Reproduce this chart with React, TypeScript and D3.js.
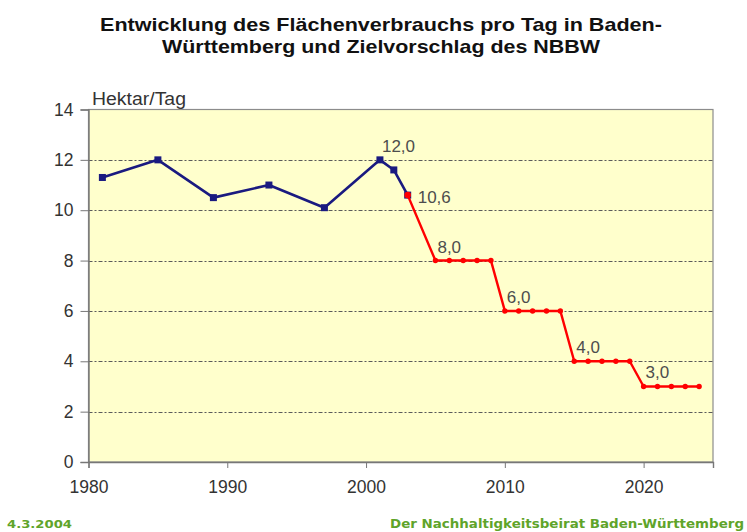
import React, { useEffect, useRef } from "react";
import * as d3 from "d3";

// measured series (Hektar pro Tag)
const measuredYears = [1981, 1985, 1989, 1993, 1997, 2001, 2002, 2003];
const measuredValues = [11.3, 12.0, 10.5, 11.0, 10.1, 12.0, 11.6, 10.6];

// target proposal of the NBBW
const targetYears = [
  2003, 2005, 2006, 2007, 2008, 2009, 2010, 2011, 2012, 2013, 2014, 2015, 2016,
  2017, 2018, 2019, 2020, 2021, 2022, 2023, 2024,
];
const targetValues = [
  10.6, 8, 8, 8, 8, 8, 6, 6, 6, 6, 6, 4, 4, 4, 4, 4, 3, 3, 3, 3, 3,
];

// value labels
const labelYears = [2001, 2003, 2005, 2010, 2015, 2020];
const labelValues = [12.0, 10.6, 8.0, 6.0, 4.0, 3.0];
const labelSide = ["above", "right", "above", "above", "above", "above"];

const xTicks = [1980, 1990, 2000, 2010, 2020];
const yTicks = [0, 2, 4, 6, 8, 10, 12, 14];

const W = 747;
const H = 532;
const FONT = "Arial, 'Liberation Sans', Helvetica, sans-serif";

const App = () => {
  const svgRef = useRef<SVGSVGElement>(null);

  useEffect(() => {
    const svg = d3.select(svgRef.current);
    svg.selectAll("*").remove();

    const left = 88.5;
    const right = 713;
    const top = 109.5;
    const bottom = 462;

    const x = d3.scaleLinear().domain([1980, 2025]).range([left, right]);
    const y = d3.scaleLinear().domain([0, 14]).range([bottom, top]);

    svg.append("rect").attr("width", W).attr("height", H).attr("fill", "#fff");

    // title
    const title = svg
      .append("text")
      .attr("text-anchor", "middle")
      .attr("font-family", FONT)
      .attr("font-weight", "bold")
      .attr("font-size", 19)
      .attr("fill", "#111");
    title
      .append("tspan")
      .attr("x", 381)
      .attr("y", 31)
      .attr("textLength", 562)
      .attr("lengthAdjust", "spacingAndGlyphs")
      .text("Entwicklung des Flächenverbrauchs pro Tag in Baden-");
    title
      .append("tspan")
      .attr("x", 381)
      .attr("y", 53)
      .attr("textLength", 438)
      .attr("lengthAdjust", "spacingAndGlyphs")
      .text("Württemberg und Zielvorschlag des NBBW");

    // plot area
    svg
      .append("rect")
      .attr("x", left)
      .attr("y", top)
      .attr("width", right - left)
      .attr("height", bottom - top)
      .attr("fill", "#ffffcc")
      .attr("stroke", "#8c8c8c")
      .attr("stroke-width", 1.2);

    // grid lines
    svg
      .append("g")
      .selectAll("line")
      .data(yTicks.filter((t) => t > 0 && t < 14))
      .enter()
      .append("line")
      .attr("x1", left)
      .attr("x2", right)
      .attr("y1", (d) => Math.round(y(d)) + 0.5)
      .attr("y2", (d) => Math.round(y(d)) + 0.5)
      .attr("stroke", "#5a5a5a")
      .attr("stroke-width", 1)
      .attr("stroke-dasharray", "4,2,2,2");

    // y axis
    const yAxis = svg
      .append("g")
      .attr("transform", `translate(${left},0)`)
      .call(d3.axisLeft(y).tickValues(yTicks).tickSize(8).tickPadding(7));
    yAxis.select(".domain").attr("stroke", "#777").attr("stroke-width", 1.4);
    yAxis.selectAll(".tick line").attr("stroke", "#777");
    yAxis
      .selectAll("text")
      .attr("font-family", FONT)
      .attr("font-size", 17.5)
      .attr("fill", "#333");

    // x axis
    const xAxis = svg
      .append("g")
      .attr("transform", `translate(0,${bottom})`)
      .call(
        d3
          .axisBottom(x)
          .tickValues(xTicks)
          .tickFormat(d3.format("d"))
          .tickSize(6)
          .tickPadding(13)
      );
    xAxis.select(".domain").attr("stroke", "#777").attr("stroke-width", 1.4);
    xAxis.selectAll(".tick line").attr("stroke", "#777");
    xAxis
      .selectAll("text")
      .attr("font-family", FONT)
      .attr("font-size", 17.5)
      .attr("fill", "#333");

    // unit
    svg
      .append("text")
      .attr("x", 92)
      .attr("y", 104.5)
      .attr("font-family", FONT)
      .attr("font-size", 17.5)
      .attr("fill", "#333")
      .attr("textLength", 94)
      .attr("lengthAdjust", "spacingAndGlyphs")
      .text("Hektar/Tag");

    const measured = measuredYears.map((yr, i) => [yr, measuredValues[i]]);
    const target = targetYears.map((yr, i) => [yr, targetValues[i]]);

    const line = d3
      .line<number[]>()
      .x((d) => x(d[0]))
      .y((d) => y(d[1]));

    // measured series
    svg
      .append("path")
      .datum(measured)
      .attr("d", line)
      .attr("fill", "none")
      .attr("stroke", "#1a1a80")
      .attr("stroke-width", 2.6)
      .attr("stroke-linejoin", "round");
    svg
      .append("g")
      .selectAll("rect")
      .data(measured)
      .enter()
      .append("rect")
      .attr("x", (d) => x(d[0]) - 3.5)
      .attr("y", (d) => y(d[1]) - 3.5)
      .attr("width", 7)
      .attr("height", 7)
      .attr("fill", "#1a1a80");

    // target series
    svg
      .append("path")
      .datum(target)
      .attr("d", line)
      .attr("fill", "none")
      .attr("stroke", "#ff0000")
      .attr("stroke-width", 2.4)
      .attr("stroke-linejoin", "round");
    svg
      .append("g")
      .selectAll("circle")
      .data(target)
      .enter()
      .append("circle")
      .attr("cx", (d) => x(d[0]))
      .attr("cy", (d) => y(d[1]))
      .attr("r", (d, i) => (i === 0 ? 3.3 : 2.7))
      .attr("fill", "#ff0000");

    // value labels
    svg
      .append("g")
      .selectAll("text")
      .data(labelYears.map((yr, i) => ({ yr, v: labelValues[i], side: labelSide[i] })))
      .enter()
      .append("text")
      .attr("x", (d) => x(d.yr) + (d.side === "right" ? 10 : 2))
      .attr("y", (d) => y(d.v) + (d.side === "right" ? 8 : -8))
      .attr("font-family", FONT)
      .attr("font-size", 17)
      .attr("fill", "#4d4d4d")
      .text((d) => d.v.toFixed(1).replace(".", ","));

    // footer
    svg
      .append("text")
      .attr("x", 7)
      .attr("y", 528)
      .attr("font-family", "'DejaVu Sans', Verdana, sans-serif")
      .attr("font-weight", "bold")
      .attr("font-size", 11)
      .attr("fill", "#5fa42a")
      .attr("textLength", 65)
      .attr("lengthAdjust", "spacingAndGlyphs")
      .text("4.3.2004");
    svg
      .append("text")
      .attr("x", 390)
      .attr("y", 528)
      .attr("font-family", "'DejaVu Sans', Verdana, sans-serif")
      .attr("font-weight", "bold")
      .attr("font-size", 11.5)
      .attr("fill", "#5fa42a")
      .attr("textLength", 354)
      .attr("lengthAdjust", "spacingAndGlyphs")
      .text("Der Nachhaltigkeitsbeirat Baden-Württemberg");
  }, []);

  return (
    <svg
      ref={svgRef}
      width={W}
      height={H}
      style={{ position: "absolute", left: 0, top: 0, display: "block" }}
    ></svg>
  );
};

export default App;
